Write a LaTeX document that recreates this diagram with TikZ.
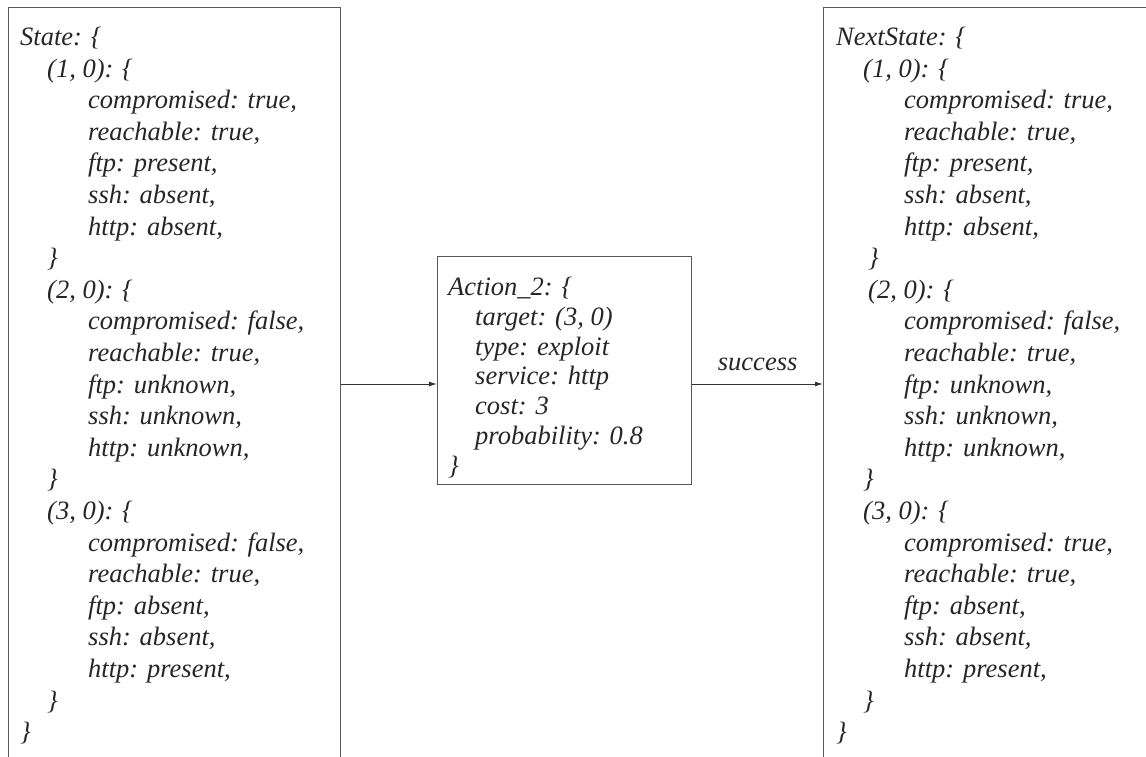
\documentclass[tikz,border=0pt]{standalone}
\usepackage{fontspec}
\setmainfont{Liberation Serif}
\usetikzlibrary{arrows.meta}
\tikzset{
  panel/.style={draw=black!65, line width=1.3pt, inner sep=0pt, anchor=north west},
  code/.style={anchor=north west, inner sep=0pt, align=left, text=black!85,
    font=\fontsize{26.5}{31.6}\selectfont\itshape},
  codeaction/.style={code, font=\fontsize{26.5}{29.8}\selectfont\itshape},
  link/.style={draw=black!80, line width=1pt, -{Latex[length=8pt,width=5pt]}},
}
\newcommand{\ia}{\hspace*{27pt}}
\newcommand{\ib}{\hspace*{68pt}}
\begin{document}
\begin{tikzpicture}[x=1pt,y=1pt]
\clip (0,0) rectangle (1146,-757);
\fill[white] (0,0) rectangle (1146,-757);
% boxes
\node[panel, minimum width=332pt, minimum height=800pt] (state) at (8,-7) {};
\node[panel, minimum width=340pt, minimum height=800pt] (next) at (823,-7) {};
\node[panel, minimum width=254pt, minimum height=228pt] (action) at (437,-256) {};
% texts
\node[code] (statetext) at (20,-27) {State: \{\\
\ia(1, 0): \{\\
\ib compromised: true,\\
\ib reachable: true,\\
\ib ftp: present,\\
\ib ssh: absent,\\
\ib http: absent,\\
\ia\}\\
\ia(2, 0): \{\\
\ib compromised: false,\\
\ib reachable: true,\\
\ib ftp: unknown,\\
\ib ssh: unknown,\\
\ib http: unknown,\\
\ia\}\\
\ia(3, 0): \{\\
\ib compromised: false,\\
\ib reachable: true,\\
\ib ftp: absent,\\
\ib ssh: absent,\\
\ib http: present,\\
\ia\}\\
\}};
\node[code] (nexttext) at (836,-27) {NextState: \{\\
\ia(1, 0): \{\\
\ib compromised: true,\\
\ib reachable: true,\\
\ib ftp: present,\\
\ib ssh: absent,\\
\ib http: absent,\\
\ia\hspace*{5pt}\}\\
\ia\hspace*{5pt}(2, 0): \{\\
\ib compromised: false,\\
\ib reachable: true,\\
\ib ftp: unknown,\\
\ib ssh: unknown,\\
\ib http: unknown,\\
\ia\}\\
\ia(3, 0): \{\\
\ib compromised: true,\\
\ib reachable: true,\\
\ib ftp: absent,\\
\ib ssh: absent,\\
\ib http: present,\\
\ia\}\\
\}};
\node[codeaction] (actiontext) at (448,-277) {Action\_2: \{\\
\hspace*{27pt}target: (3, 0)\\
\hspace*{27pt}type: exploit\\
\hspace*{27pt}service: http\\
\hspace*{27pt}cost: 3\\
\hspace*{27pt}probability: 0.8\\
\}};
% connectors
\coordinate (ay) at (0,-384);
\draw[link] (state.east |- ay) -- (action.west |- ay);
\draw[link] (action.east |- ay) -- node[above=9pt, font=\fontsize{26.5}{30}\selectfont\itshape, text=black!85] (succ) {success} (next.west |- ay);
\end{tikzpicture}
\end{document}
